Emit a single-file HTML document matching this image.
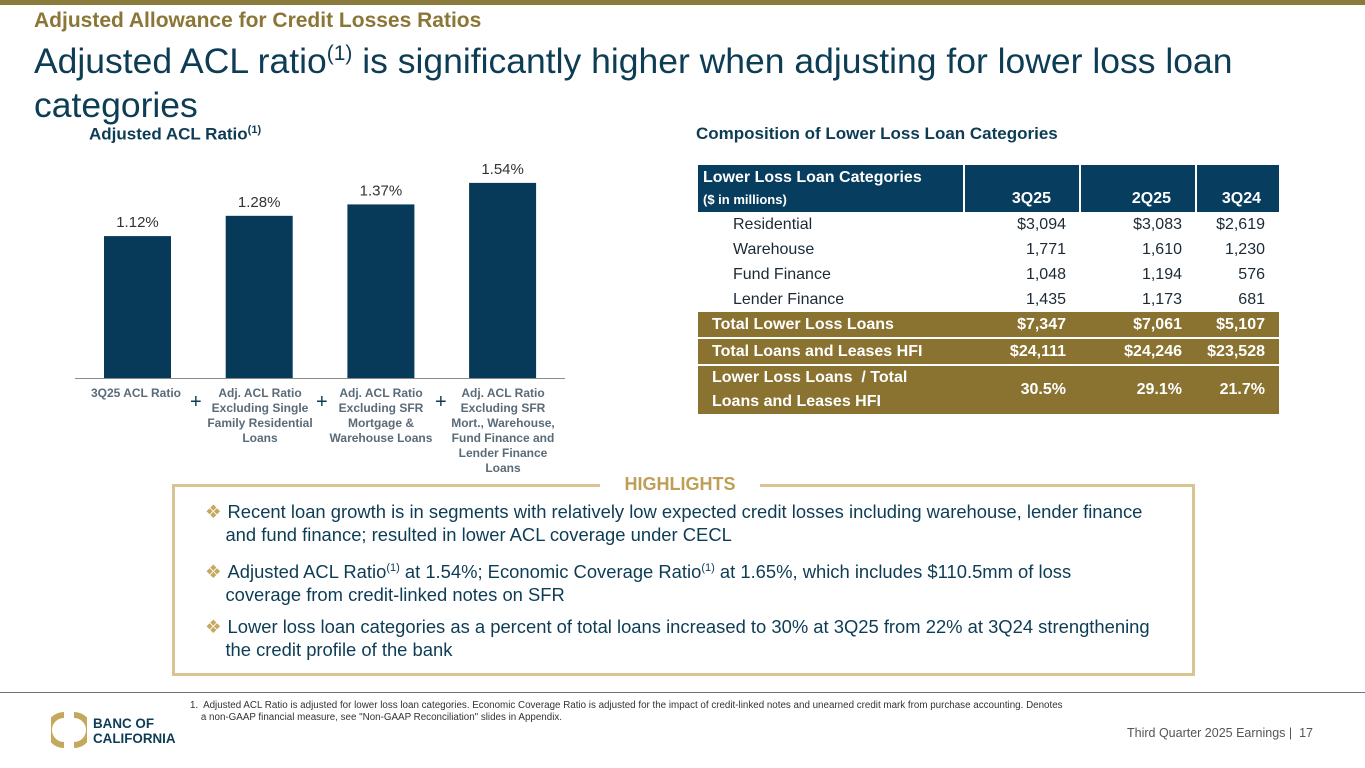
<!DOCTYPE html>
<html><head><meta charset="utf-8"><style>
body{margin:0;width:1365px;height:768px;position:relative;background:#fff;font-family:"Liberation Sans",Arial,sans-serif;overflow:hidden}
.a{position:absolute}
.lbl{position:absolute;width:112px;text-align:center;font-size:12px;font-weight:bold;color:#5a6b78;line-height:15px}
.plus{position:absolute;font-size:20px;color:#0d3c55;top:391px}
table{border-collapse:collapse;font-size:16px;table-layout:fixed}
td{padding:0 14px 0 0;text-align:right;height:25px}
.hl{position:absolute;left:205px;font-size:18.4px;color:#0d3c55;line-height:23px;white-space:nowrap}
.hl b{color:#c6a95e;font-weight:normal;margin-right:6px}
</style></head><body>
<div class="a" style="left:0;top:0;width:1365px;height:5px;background:#8a7a3c"></div>
<div class="a" style="left:34px;top:9px;font-size:21px;font-weight:bold;color:#8b7637">Adjusted Allowance for Credit Losses Ratios</div>
<div class="a" style="left:34px;top:32px;font-size:35.5px;color:#0d3c55;line-height:44px;width:1270px">Adjusted ACL ratio<sup style="font-size:21px">(1)</sup> is significantly higher when adjusting for lower loss loan categories</div>
<div class="a" style="left:89px;top:124px;font-size:17px;font-weight:bold;color:#0d3c55">Adjusted ACL Ratio<sup style="font-size:11px">(1)</sup></div>
<div class="a" style="left:696px;top:124px;font-size:17px;font-weight:bold;color:#0d3c55">Composition of Lower Loss Loan Categories</div>
<svg class="a" style="left:0;top:0" width="600" height="400" id="chart"></svg>
<div class="lbl" style="left:80px;top:386px">3Q25 ACL Ratio</div>
<div class="lbl" style="left:204px;top:386px">Adj. ACL Ratio Excluding Single Family Residential Loans</div>
<div class="lbl" style="left:325px;top:386px">Adj. ACL Ratio Excluding SFR Mortgage &amp; Warehouse Loans</div>
<div class="lbl" style="left:447px;top:386px">Adj. ACL Ratio Excluding SFR Mort., Warehouse, Fund Finance and Lender Finance Loans</div>
<div class="plus" style="left:190px">+</div>
<div class="plus" style="left:316px">+</div>
<div class="plus" style="left:435px">+</div>
<div class="a" style="left:698px;top:165px;width:581px">
<table style="width:581px;color:#1b2a36">
<colgroup><col style="width:266px"><col style="width:116px"><col style="width:116px"><col style="width:83px"></colgroup>
<tr style="background:#073d5e;color:#fff;font-weight:bold;height:47px">
<td style="text-align:left;padding-left:5px;vertical-align:top;padding-top:4px;border-right:2px solid #fff;white-space:nowrap"><div style="font-size:16px">Lower Loss Loan Categories</div><div style="font-size:13px;margin-top:5px">($ in millions)</div></td>
<td style="vertical-align:bottom;padding-bottom:4px;padding-right:28px;border-right:2px solid #fff">3Q25</td>
<td style="vertical-align:bottom;padding-bottom:4px;padding-right:24px;border-right:2px solid #fff">2Q25</td>
<td style="vertical-align:bottom;padding-bottom:4px;padding-right:18px">3Q24</td></tr>
<tr><td style="text-align:left;padding-left:35px">Residential</td><td>$3,094</td><td>$3,083</td><td>$2,619</td></tr>
<tr><td style="text-align:left;padding-left:35px">Warehouse</td><td>1,771</td><td>1,610</td><td>1,230</td></tr>
<tr><td style="text-align:left;padding-left:35px">Fund Finance</td><td>1,048</td><td>1,194</td><td>576</td></tr>
<tr><td style="text-align:left;padding-left:35px">Lender Finance</td><td>1,435</td><td>1,173</td><td>681</td></tr>
<tr style="background:#8a7330;color:#fff;font-weight:bold;border-bottom:2px solid #fff"><td style="text-align:left;padding-left:14px;height:23px;white-space:nowrap">Total Lower Loss Loans</td><td>$7,347</td><td>$7,061</td><td>$5,107</td></tr>
<tr style="background:#8a7330;color:#fff;font-weight:bold;border-bottom:2px solid #fff"><td style="text-align:left;padding-left:14px;height:23px;white-space:nowrap">Total Loans and Leases HFI</td><td>$24,111</td><td>$24,246</td><td>$23,528</td></tr>
<tr style="background:#8a7330;color:#fff;font-weight:bold"><td style="text-align:left;padding-left:14px;height:47px;line-height:24px;white-space:nowrap">Lower Loss Loans &nbsp;/ Total<br>Loans and Leases HFI</td><td>30.5%</td><td>29.1%</td><td>21.7%</td></tr>
</table></div>
<div class="a" style="left:172px;top:484px;width:1017px;height:186px;border:3px solid #d8c592"></div>
<div class="a" style="left:600px;top:474px;width:160px;text-align:center;background:#fff;font-size:18px;font-weight:bold;color:#bf9f55">HIGHLIGHTS</div>
<div class="hl" style="top:500px"><b>❖</b>Recent loan growth is in segments with relatively low expected credit losses including warehouse, lender finance<br>&nbsp;&nbsp;&nbsp;&nbsp;and fund finance; resulted in lower ACL coverage under CECL</div>
<div class="hl" style="top:557px"><b>❖</b>Adjusted ACL Ratio<sup style="font-size:11px">(1)</sup> at 1.54%; Economic Coverage Ratio<sup style="font-size:11px">(1)</sup> at 1.65%, which includes $110.5mm of loss<br>&nbsp;&nbsp;&nbsp;&nbsp;coverage from credit-linked notes on SFR</div>
<div class="hl" style="top:615px"><b>❖</b>Lower loss loan categories as a percent of total loans increased to 30% at 3Q25 from 22% at 3Q24 strengthening<br>&nbsp;&nbsp;&nbsp;&nbsp;the credit profile of the bank</div>
<div class="a" style="left:0;top:692px;width:1365px;height:1px;background:#6d747a"></div>
<div class="a" style="left:190px;top:700px;font-size:9.8px;color:#333;line-height:12px;white-space:nowrap">1.&nbsp; Adjusted ACL Ratio is adjusted for lower loss loan categories. Economic Coverage Ratio is adjusted for the impact of credit-linked notes and unearned credit mark from purchase accounting. Denotes<br>&nbsp;&nbsp;&nbsp;&nbsp;a non-GAAP financial measure, see "Non-GAAP Reconciliation" slides in Appendix.</div>
<svg class="a" style="left:51px;top:712px" width="36" height="36"><path d="M13 3 A15 15 0 0 0 13 33" stroke="#c4a85e" stroke-width="6" fill="none"/><path d="M23 3 A15 15 0 0 1 23 33" stroke="#c4a85e" stroke-width="6" fill="none"/></svg>
<div class="a" style="left:93px;top:716px;font-size:13.4px;font-weight:bold;color:#0d3c55;line-height:15px">BANC OF<br>CALIFORNIA</div>
<div class="a" style="left:1127px;top:726px;font-size:12.5px;color:#555">Third Quarter 2025 Earnings | &nbsp;17</div>
<script>
const categories=["3Q25 ACL Ratio","Excl. SFR","Excl. SFR & Warehouse","Excl. SFR, Warehouse, FF & LF"];
const values=[1.12,1.28,1.37,1.54];
const labels=["1.12%","1.28%","1.37%","1.54%"];
const svg=document.getElementById('chart');
const NS='http://www.w3.org/2000/svg';
const base=378, pxPer=126.7;
const y=v=>base-v*pxPer;
const x=i=>104+i*121.7;
const axis=document.createElementNS(NS,'line');
axis.setAttribute('x1',75);axis.setAttribute('x2',565);axis.setAttribute('y1',base+0.5);axis.setAttribute('y2',base+0.5);
axis.setAttribute('stroke','#8a8a8a');


svg.appendChild(axis);
values.forEach((v,i)=>{
 const r=document.createElementNS(NS,'rect');
 r.setAttribute('x',x(i));r.setAttribute('width',67);r.setAttribute('y',y(v));r.setAttribute('height',base-y(v));r.setAttribute('fill','#063a58');
 
 
 svg.appendChild(r);
 const t=document.createElementNS(NS,'text');
 t.setAttribute('x',x(i)+33.5);t.setAttribute('y',y(v)-9);t.setAttribute('text-anchor','middle');t.setAttribute('font-size','15');t.setAttribute('fill','#333');
 t.textContent=labels[i];
 
 
 svg.appendChild(t);
});
</script>
</body></html>
